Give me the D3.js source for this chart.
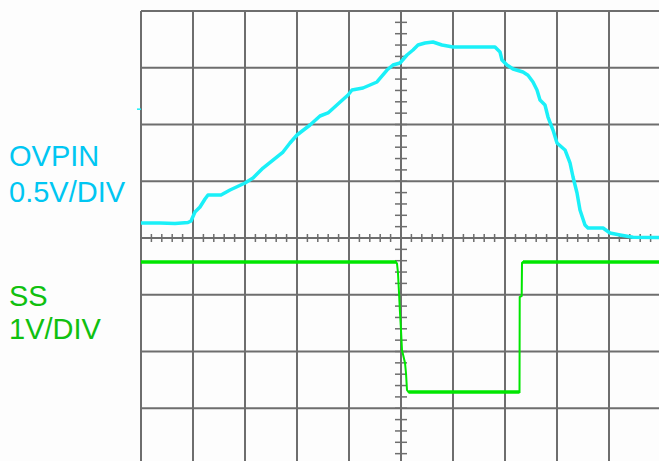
<!DOCTYPE html>
<html>
<head>
<meta charset="utf-8">
<script src="https://cdn.jsdelivr.net/npm/d3@7"></script>
<style>
  html, body { margin: 0; padding: 0; background: #fdfdfd; }
  svg { display: block; }
</style>
</head>
<body>
<svg id="chart" width="659" height="461"></svg>
<script>
// Time in horizontal divisions (center = 0), values in vertical divisions (center line = 0)
const ovpinTime = [-5.0,-4.635,-4.346,-4.096,-4.038,-3.962,-3.865,-3.769,-3.712,-3.462,-3.288,-3.0,-2.846,-2.654,-2.462,-2.269,-2.135,-2.0,-1.75,-1.558,-1.404,-1.212,-1.019,-0.942,-0.731,-0.462,-0.269,-0.154,-0.019,0.115,0.231,0.327,0.462,0.615,0.788,1.0,1.808,1.904,1.942,2.038,2.154,2.346,2.442,2.538,2.615,2.673,2.769,2.827,2.923,3.0,3.154,3.25,3.308,3.385,3.442,3.538,3.596,3.885,4.019,4.212,4.462,4.962];
const ovpinDiv  = [0.264,0.264,0.256,0.273,0.300,0.458,0.546,0.687,0.758,0.758,0.846,0.969,1.057,1.233,1.374,1.515,1.674,1.815,1.991,2.150,2.203,2.361,2.520,2.608,2.643,2.749,2.960,3.048,3.084,3.225,3.313,3.401,3.436,3.454,3.401,3.366,3.366,3.278,3.137,3.048,2.978,2.925,2.868,2.749,2.608,2.432,2.344,2.132,1.903,1.674,1.551,1.322,1.075,0.793,0.493,0.229,0.176,0.176,0.088,0.053,0.012,0.009];

const ssTime = [-5.0,-0.096,-0.077,-0.058,-0.038,-0.019,0.0,0.019,0.077,0.096,0.115,0.144,2.279,2.283,2.321,2.327,2.346,4.962];
const ssDiv  = [-0.423,-0.423,-0.449,-0.617,-0.969,-1.322,-1.621,-1.974,-2.203,-2.379,-2.678,-2.714,-2.714,-1.040,-1.022,-0.441,-0.423,-0.423];

const ovpinMarker = 2.27;   // channel marker level (divisions)

const labelsOvpin = ["OVPIN", "0.5V/DIV"];
const labelsSS = ["SS", "1V/DIV"];

const hDivs = d3.range(-5, 6);      // -5..5
const vDivs = d3.range(-4, 5);      // -4..4
const hMinor = d3.range(-25, 26).map(d => d / 5);
const vMinor = d3.range(-20, 21).map(d => d / 5);

const svg = d3.select("#chart");
const x = d3.scaleLinear().domain([-5, 5]).range([141, 661]);
const y = d3.scaleLinear().domain([-4, 4]).range([465, 11]);

const gridColor = "#6e6e6e";
const grid = svg.append("g");

grid.selectAll("line.v").data(hDivs).join("line")
  .attr("x1", d => x(d)).attr("x2", d => x(d))
  .attr("y1", y(4)).attr("y2", y(-4))
  .attr("stroke", gridColor).attr("stroke-width", 2);

grid.selectAll("line.h").data(vDivs).join("line")
  .attr("y1", d => y(d)).attr("y2", d => y(d))
  .attr("x1", x(-5)).attr("x2", x(5))
  .attr("stroke", gridColor).attr("stroke-width", 2);

// minor ticks on center horizontal axis
grid.selectAll("line.hm").data(hMinor).join("line")
  .attr("x1", d => x(d)).attr("x2", d => x(d))
  .attr("y1", y(0) - 4).attr("y2", y(0) + 4)
  .attr("stroke", gridColor).attr("stroke-width", 1.5);

// minor ticks on center vertical axis
grid.selectAll("line.vm").data(vMinor).join("line")
  .attr("y1", d => y(d)).attr("y2", d => y(d))
  .attr("x1", x(0) - 6).attr("x2", x(0) + 6)
  .attr("stroke", gridColor).attr("stroke-width", 1.5);

const line = d3.line().x(d => x(d[0])).y(d => y(d[1]));

// OVPIN trace
svg.append("path")
  .datum(d3.zip(ovpinTime, ovpinDiv))
  .attr("d", line)
  .attr("fill", "none")
  .attr("stroke", "#1af0f8")
  .attr("stroke-width", 3.5)
  .attr("stroke-linejoin", "round");

// SS trace
svg.append("path")
  .datum(d3.zip(ssTime, ssDiv))
  .attr("d", line)
  .attr("fill", "none")
  .attr("stroke", "#00e600")
  .attr("stroke-width", 2)
  .attr("stroke-linejoin", "miter");

// thicker flat sections of SS
svg.append("g").selectAll("line")
  .data([[ssTime[0], ssTime[1], ssDiv[0]], [ssTime[11], ssTime[12], ssDiv[11]], [ssTime[16], ssTime[17], ssDiv[16]]])
  .join("line")
  .attr("x1", d => x(d[0])).attr("x2", d => x(d[1]))
  .attr("y1", d => y(d[2])).attr("y2", d => y(d[2]))
  .attr("stroke", "#00e600").attr("stroke-width", 3.5);

// channel marker
svg.append("line")
  .attr("x1", x(-5) - 4).attr("x2", x(-5))
  .attr("y1", y(ovpinMarker)).attr("y2", y(ovpinMarker))
  .attr("stroke", "#1af0f8").attr("stroke-width", 1.5);

// labels
const font = "'Liberation Sans', Arial, sans-serif";
svg.append("g").selectAll("text").data(labelsOvpin).join("text")
  .attr("x", 9).attr("y", (d, i) => 166 + i * 36)
  .attr("font-family", font).attr("font-size", 29)
  .attr("fill", "#00c6f2").text(d => d);

svg.append("g").selectAll("text").data(labelsSS).join("text")
  .attr("x", 9).attr("y", (d, i) => 306 + i * 33)
  .attr("font-family", font).attr("font-size", 29)
  .attr("fill", "#10c010").text(d => d);
</script>
</body>
</html>
